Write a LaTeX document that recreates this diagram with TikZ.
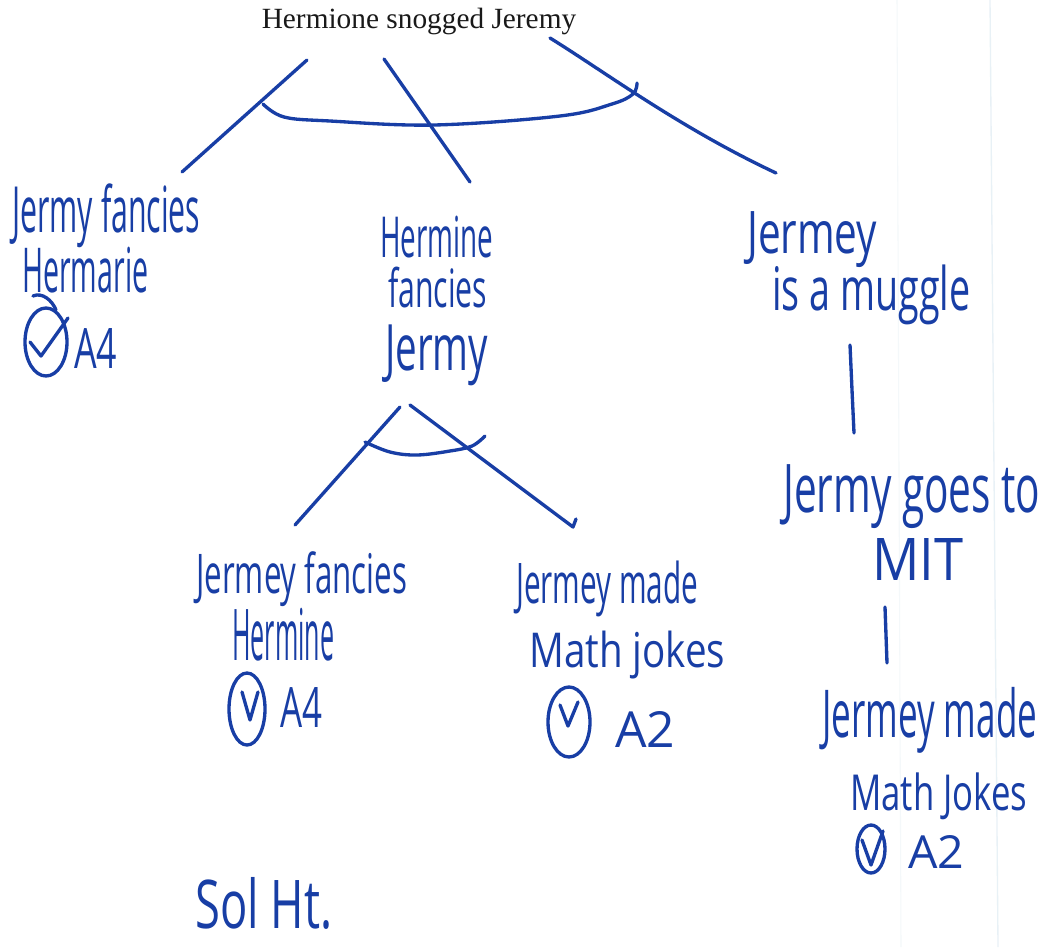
\documentclass[tikz,border=0pt]{standalone}
\usepackage{fontspec}
\usepackage{graphicx}
\setmainfont{Liberation Serif}
\newfontfamily\handfont{Open Sans}
% one picture unit = one pixel of the page
\newdimen\hwpx \hwpx=0.75pt
% a handwritten line, squeezed to a given width and total height (in pixels)
\newcommand\hw[3]{\resizebox*{#1\hwpx}{#2\hwpx}{\handfont #3}}
\definecolor{ink}{RGB}{24,62,165}
\definecolor{paperrule}{RGB}{232,241,246}

\begin{document}
\begin{tikzpicture}[x=0.75pt,y=-0.75pt,
  pen/.style={draw=ink,line width=2.5pt,line cap=round,line join=round},
  hand/.style={text=ink,inner sep=0pt,anchor=base west},
  heading/.style={font=\fontsize{22}{26}\selectfont,inner sep=0pt,anchor=base,text=black!90}]

% page
\fill[white] (0,0) rectangle (1062,947);
\useasboundingbox (0,0) rectangle (1062,947);
\draw[paperrule,line width=1pt] (990,0) -- (998,947);
\draw[paperrule!50,line width=0.8pt] (897,0) -- (901,947);

% claim at the root
\node[heading] (root) at (419,28) {Hermione snogged Jeremy};

% first level
\node[hand] (n1a) at (12,232) {\hw{188}{64}{Jermy fancies}};
\node[hand] (n1b) at (22,292) {\hw{126}{46}{Hermarie}};
\node[hand] (n1c) at (74,368) {\hw{43}{40}{A4}};

\node[hand] (n2a) at (380,257) {\hw{113}{42}{Hermine}};
\node[hand] (n2b) at (388,307) {\hw{99}{41}{fancies}};
\node[hand] (n2c) at (385,370) {\hw{103}{61}{Jermy}};

\node[hand] (n3a) at (747,253) {\hw{130}{56}{Jermey}};
\node[hand] (n3b) at (772,310) {\hw{198}{60}{is a muggle}};

% right-hand chain
\node[hand] (n4a) at (783,512) {\hw{257}{64}{Jermy goes to}};
\node[hand] (n4b) at (872,580) {\hw{91}{42}{MIT}};

\node[hand] (n5a) at (822,737) {\hw{215}{66}{Jermey made}};
\node[hand] (n5b) at (850,810) {\hw{177}{47}{Math Jokes}};
\node[hand] (n5c) at (908,868) {\hw{56}{33}{A2}};

% second level under the middle claim
\node[hand] (n6a) at (196,593) {\hw{211}{55}{Jermey fancies}};
\node[hand] (n6b) at (232,660) {\hw{102}{53}{Hermine}};
\node[hand] (n6c) at (280,727) {\hw{42}{40}{A4}};

\node[hand] (n7a) at (516,603) {\hw{182}{56}{Jermey made}};
\node[hand] (n7b) at (529,667) {\hw{196}{48}{Math jokes}};
\node[hand] (n7c) at (615,747) {\hw{60}{36}{A2}};

% signature
\node[hand] (sig) at (195,928) {\hw{137}{52}{Sol Ht.}};

% end points of the strokes
\coordinate (rL) at (307,60);  \coordinate (kL) at (182,172);
\coordinate (rM) at (384,59);  \coordinate (kM) at (470,182);
\coordinate (rR) at (550,38);  \coordinate (kR) at (776,173);
\coordinate (mL) at (400,407); \coordinate (gL) at (295,525);
\coordinate (mR) at (410,405); \coordinate (gR) at (573,527);
\coordinate (v1a) at (850,345); \coordinate (v1b) at (854,433);
\coordinate (v2a) at (885,607); \coordinate (v2b) at (887,663);

% connectors from the root
\draw[pen] (rL) -- (kL);
\draw[pen] (rM) -- (kM);
\draw[pen] (rR) .. controls (605,72) and (680,128) .. (kR);
% the "and" arc across the three branches
\draw[pen] plot[smooth,tension=0.6] coordinates
  {(263,104) (284,117) (330,121) (434,125) (560,116) (612,104) (633,94) (637,83)};

% connectors below "Hermine fancies Jermy"
\draw[pen] (mL) -- (gL);
\draw[pen] (mR) -- (gR) -- (576,519);
\draw[pen] plot[smooth,tension=0.6] coordinates
  {(365,442) (390,452) (417,455) (450,451) (472,446) (485,436)};

% vertical links on the right
\draw[pen] (v1a) -- (852,390) -- (v1b);
\draw[pen] (v2a) -- (v2b);

% ticked circles
\draw[pen] (46,342) ellipse [x radius=21, y radius=34];
\draw[pen] (33,296) .. controls (42,292) and (52,300) .. (56,310);
\draw[pen] (30,342) -- (41,356) -- (68,318);

\draw[pen] (247,709) ellipse [x radius=18, y radius=36];
\draw[pen] (242,692) -- (250,720) -- (258,692);

\draw[pen] (569,722) ellipse [x radius=21, y radius=35];
\draw[pen] (560,705) -- (568,726) -- (578,702);

\draw[pen] (871,849) ellipse [x radius=14, y radius=24];
\draw[pen] (862,840) -- (871,865) -- (883,831);

\end{tikzpicture}
\end{document}
